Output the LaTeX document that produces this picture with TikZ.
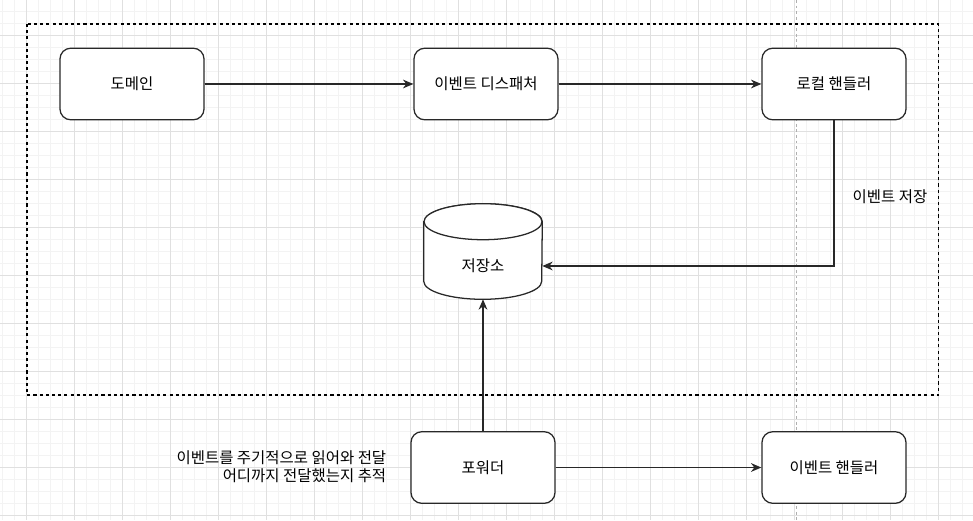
\documentclass[tikz,border=0pt]{standalone}
\usepackage{fontspec}
\setmainfont{Noto Sans CJK KR}
\usetikzlibrary{arrows.meta,positioning,calc}
\definecolor{ink}{RGB}{40,40,40}
\definecolor{gridmaj}{RGB}{224,224,224}
\definecolor{gridmin}{RGB}{243,243,243}
\definecolor{pageline}{RGB}{175,175,175}
\tikzset{
  box/.style={draw=ink, line width=0.9pt, rounded corners=2.7mm, fill=white,
              minimum width=3.6cm, minimum height=1.79cm, inner sep=0pt,
              font=\fontsize{11}{12.8}\selectfont, align=center},
  drumbox/.style={minimum width=2.95cm, minimum height=2.375cm, inner sep=0pt},
  drumline/.style={draw=ink, line width=0.9pt, fill=white},
  note/.style={inner sep=0pt, font=\fontsize{11}{12.8}\selectfont},
  flow/.style={-{Stealth[length=2.6mm,width=2.2mm]}, draw=ink, line width=0.9pt},
  frame/.style={draw=black, line width=0.9pt, dash pattern=on 2.2pt off 2.2pt},
}
\begin{document}
\begin{tikzpicture}[x=0.025cm,y=-0.025cm]
  \useasboundingbox (0,0) rectangle (973,520);
  % grid
  \foreach \i in {-2,...,78}
    \draw[gridmin,line width=0.4pt] ({26.3+12*\i},0) -- ({26.3+12*\i},520);
  \foreach \j in {-2,...,40}
    \draw[gridmin,line width=0.4pt] (0,{35.7+12*\j}) -- (973,{35.7+12*\j});
  \foreach \i in {0,...,19}
    \draw[gridmaj,line width=0.5pt] ({26.3+48*\i},0) -- ({26.3+48*\i},520);
  \foreach \j in {0,...,10}
    \draw[gridmaj,line width=0.5pt] (0,{35.7+48*\j}) -- (973,{35.7+48*\j});
  \draw[pageline,line width=0.5pt,dash pattern=on 2pt off 2pt] (796,0) -- (796,520);

  \draw[frame] (27,24) rectangle (938.7,395);

  \node[box] (domain) at (132,84) {도메인};
  \node[box] (dispatcher) at (486,84) {이벤트 디스패처};
  \node[box] (localhandler) at (834,84) {로컬 핸들러};
  \node[box] (forwarder) at (483,467.5) {포워더};
  \node[box] (eventhandler) at (834,467.5) {이벤트 핸들러};

  % storage drum
  \node[drumbox] (store) at (483,251.5) {};
  \draw[drumline] ($(store.north west)+(0,18)$) -- ($(store.south west)+(0,-18)$)
    arc[start angle=180, end angle=0, x radius=59, y radius=18]
    -- ($(store.north east)+(0,18)$)
    arc[start angle=0, end angle=-180, x radius=59, y radius=18] -- cycle;
  \draw[drumline] ($(store.north)+(0,18)$) ellipse[x radius=59, y radius=18];
  \node[note] (storetext) at (483,266) {저장소};

  \node[note] (savenote) at (890,197) {이벤트 저장};
  \node[note,anchor=east,align=right] (fwdnote) at (386.5,467)
    {이벤트를 주기적으로 읽어와 전달\\어디까지 전달했는지 추적};

  \draw[flow] (domain) -- (dispatcher);
  \draw[flow] (dispatcher) -- (localhandler);
  \draw[flow] (localhandler.south) |- (store.east |- storetext);
  \draw[flow] (forwarder) -- (store);
  \draw[flow] (forwarder) -- (eventhandler);
\end{tikzpicture}
\end{document}
